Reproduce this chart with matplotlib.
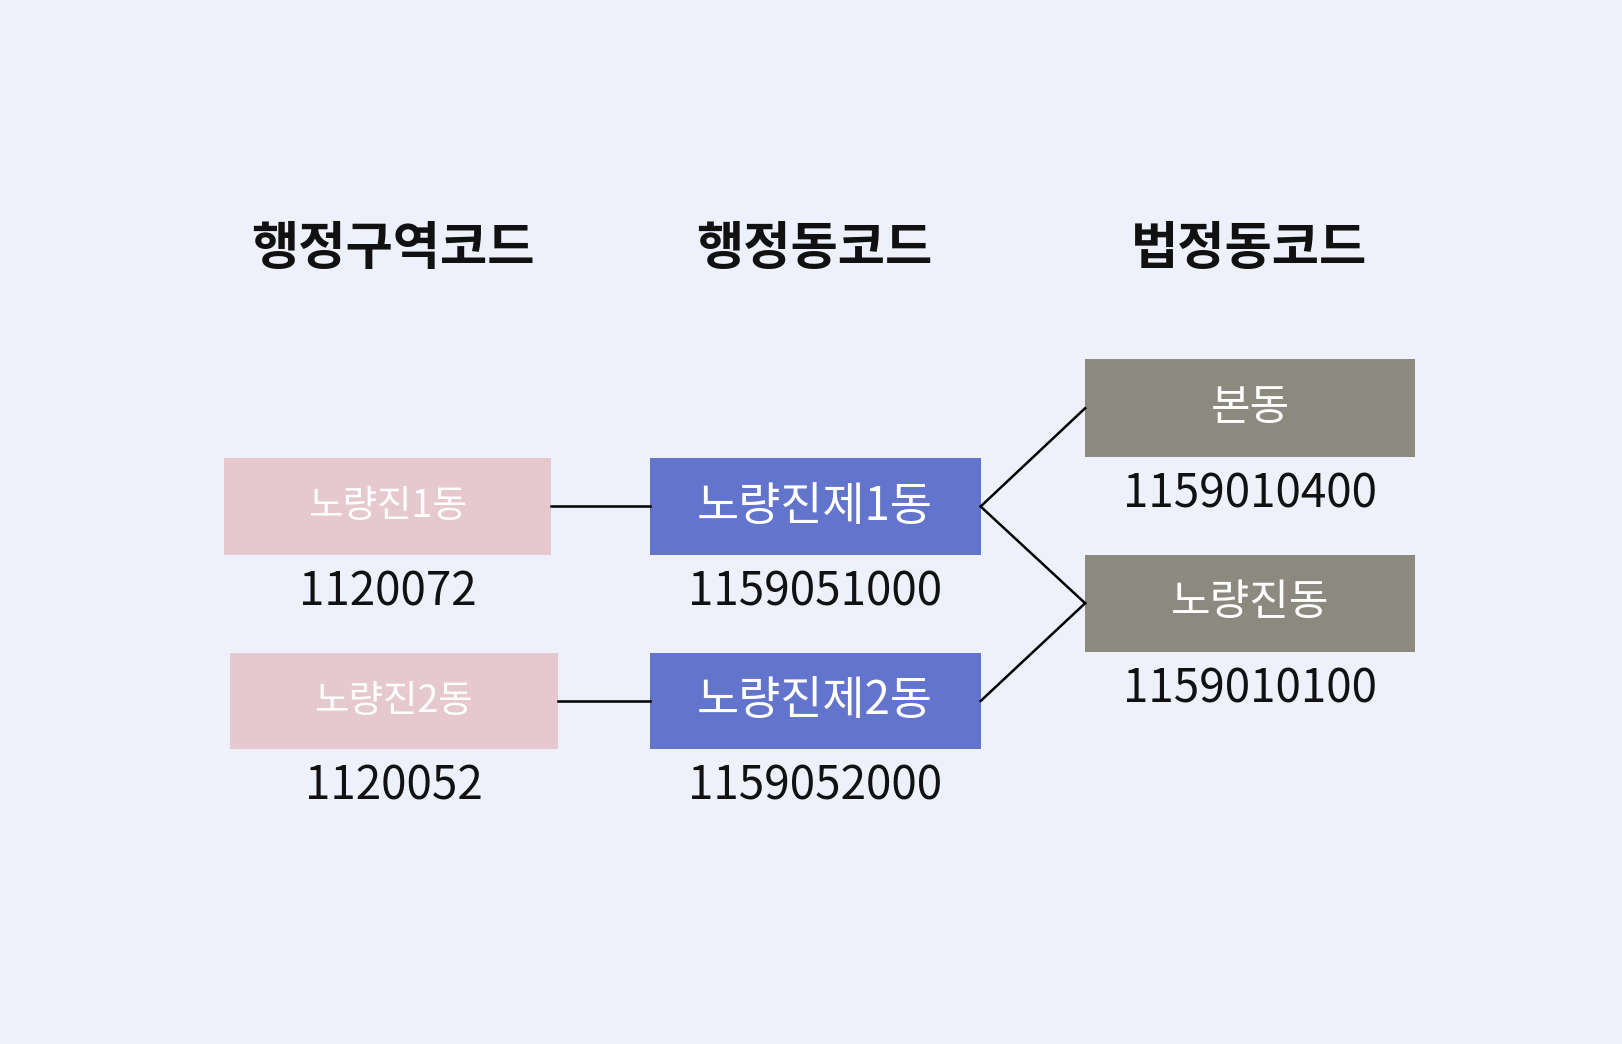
import matplotlib.pyplot as plt
from matplotlib.patches import Rectangle

plt.rcParams['font.family'] = ['Noto Sans CJK KR', 'DejaVu Sans']

headers = ["행정구역코드", "행정동코드", "법정동코드"]
header_x = [380, 787, 1207]

names = ["노량진1동", "노량진2동", "노량진제1동", "노량진제2동", "본동", "노량진동"]
codes = ["1120072", "1120052", "1159051000", "1159052000", "1159010400", "1159010100"]
# box left, top, right, bottom (reference pixel space)
boxes = [(217, 443, 533, 536), (222, 631, 539, 724),
         (628, 443, 948, 536), (628, 631, 948, 724),
         (1049, 347, 1368, 442), (1049, 536, 1368, 630)]
colors = ["#e6c8cf", "#e6c8cf", "#6374cc", "#6374cc", "#8c8a7e", "#8c8a7e"]
name_size = [27, 27, 33, 33, 31, 31]
links = [(0, 2), (1, 3), (2, 4), (2, 5), (3, 5)]

W, H = 1568, 1009
fig = plt.figure(figsize=(16.22, 10.44), dpi=100)
fig.patch.set_facecolor("#eef0fc")
ax = fig.add_axes([0, 0, 1, 1])
ax.set_xlim(0, W)
ax.set_ylim(H, 0)
ax.axis("off")

for t, x in zip(headers, header_x):
    ax.text(x, 240, t, ha="center", va="center", fontsize=37, fontweight="bold", color="#111111")

for (l, t, r, b), n, c, col, fs in zip(boxes, names, codes, colors, name_size):
    ax.add_patch(Rectangle((l, t), r - l, b - t, facecolor=col, edgecolor="none"))
    ax.text((l + r) / 2, (t + b) / 2, n, ha="center", va="center", fontsize=fs, color="white")
    ax.text((l + r) / 2, b + 36, c, ha="center", va="center", fontsize=33, color="#111111")

for a, b in links:
    la, ta, ra, ba = boxes[a]
    lb, tb, rb, bb = boxes[b]
    ax.plot([ra, lb], [(ta + ba) / 2, (tb + bb) / 2], color="black", lw=1.8)

fig.savefig("out.png", facecolor=fig.get_facecolor())
